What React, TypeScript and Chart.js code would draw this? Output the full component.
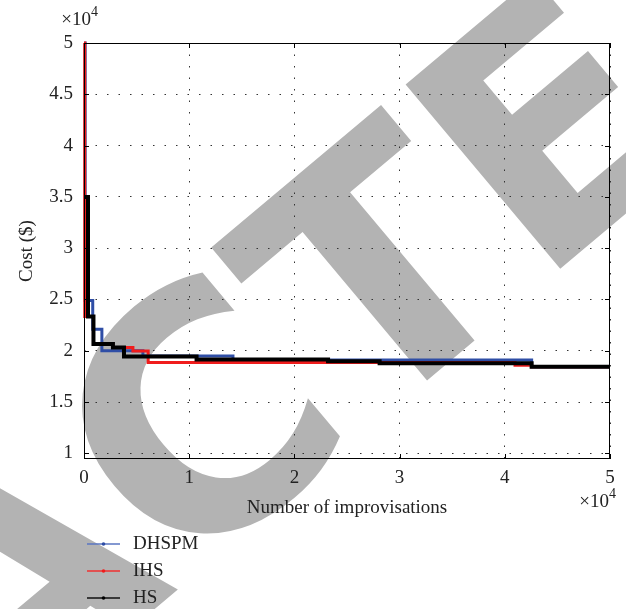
import React, { useEffect, useRef } from "react";
import { Chart, registerables } from "chart.js";

Chart.register(...registerables);

const seriesNames = ["DHSPM", "IHS", "HS"];
const seriesColors = ["#2f4ea6", "#f01c1c", "#000000"];
const legendColors = ["#5a76c2", "#f03030", "#111111"];

// x = number of improvisations, y = cost ($); each point is where the step changes
const dhspmX = [0, 110, 830, 1700, 5600, 14160, 42550, 50000];
const dhspmY = [50000, 24900, 22100, 20000, 19500, 19100, 18450, 18450];
const ihsX = [0, 70, 900, 2750, 4650, 6100, 40970, 42550, 50000];
const ihsY = [50000, 23330, 20670, 20310, 19980, 18850, 18600, 18450, 18450];
const hsX = [0, 380, 900, 2750, 3800, 10700, 23200, 28100, 42550, 50000];
const hsY = [35000, 23330, 20670, 20310, 19450, 19150, 18990, 18780, 18450, 18450];

const xTicks = [0, 10000, 20000, 30000, 40000, 50000];
const yTicks = [10000, 15000, 20000, 25000, 30000, 35000, 40000, 45000, 50000];

const xTitle = "Number of improvisations";
const yTitle = "Cost ($)";
const watermark = "RETRACTED";

const FONT = '"Liberation Serif", "Times New Roman", serif';

const toPts = (xs: number[], ys: number[]) => xs.map((x, i) => ({ x, y: ys[i] }));

const watermarkPlugin = {
  id: "watermark",
  beforeDraw(chart: any) {
    const ctx = chart.ctx;
    ctx.save();
    ctx.fillStyle = "#b3b3b3";
    ctx.font = 'bold 330px "DejaVu Sans"';
    ctx.textAlign = "left";
    ctx.textBaseline = "alphabetic";
    ctx.translate(-751, 1369);
    ctx.rotate((-40 * Math.PI) / 180);
    ctx.fillText(watermark, 0, 0);
    ctx.restore();
  },
};

const framePlugin = {
  id: "frame",
  afterDatasetsDraw(chart: any) {
    const { ctx, chartArea: a, scales } = chart;
    ctx.save();
    ctx.strokeStyle = "#000";
    ctx.lineWidth = 1;
    ctx.setLineDash([]);
    ctx.strokeRect(Math.round(a.left) + 0.5, Math.round(a.top) + 0.5, Math.round(a.right - a.left) - 1, Math.round(a.bottom - a.top) - 1);
    const t = 5;
    ctx.beginPath();
    for (const v of xTicks) {
      const px = Math.round(scales.x.getPixelForValue(v)) + 0.5;
      ctx.moveTo(px, a.bottom);
      ctx.lineTo(px, a.bottom - t);
      ctx.moveTo(px, a.top);
      ctx.lineTo(px, a.top + t);
    }
    for (const v of yTicks) {
      const py = Math.round(scales.y.getPixelForValue(v)) + 0.5;
      ctx.moveTo(a.left, py);
      ctx.lineTo(a.left + t, py);
      ctx.moveTo(a.right, py);
      ctx.lineTo(a.right - t, py);
    }
    ctx.stroke();
    ctx.restore();
  },
};

const textPlugin = {
  id: "texts",
  afterDraw(chart: any) {
    const { ctx, chartArea: a } = chart;
    ctx.save();
    ctx.fillStyle = "#222";
    ctx.textBaseline = "middle";
    ctx.font = `19px ${FONT}`;
    ctx.textAlign = "center";
    ctx.fillText(xTitle, (a.left + a.right) / 2, 508);
    ctx.save();
    ctx.translate(27, (a.top + a.bottom) / 2);
    ctx.rotate(-Math.PI / 2);
    ctx.fillText(yTitle, 0, 0);
    ctx.restore();
    const drawMult = (xRight: number, yMid: number) => {
      ctx.textAlign = "right";
      ctx.font = `14px ${FONT}`;
      const w4 = ctx.measureText("4").width;
      ctx.fillText("4", xRight, yMid - 8);
      ctx.font = `19px ${FONT}`;
      ctx.fillText("×10", xRight - w4, yMid);
    };
    drawMult(98, 20);
    drawMult(616, 502);
    const lx0 = 87, lx1 = 120, ly0 = 544, dy = 27;
    chart.data.datasets.forEach((ds: any, i: number) => {
      const y = ly0 + i * dy;
      ctx.strokeStyle = legendColors[i];
      ctx.lineWidth = 1.5;
      ctx.beginPath();
      ctx.moveTo(lx0, y);
      ctx.lineTo(lx1, y);
      ctx.stroke();
      ctx.fillStyle = seriesColors[i];
      ctx.beginPath();
      ctx.arc((lx0 + lx1) / 2, y, 1.8, 0, Math.PI * 2);
      ctx.fill();
      ctx.fillStyle = "#222";
      ctx.font = `19px ${FONT}`;
      ctx.textAlign = "left";
      ctx.fillText(ds.label, 133, y);
    });
    ctx.restore();
  },
};

export default function App() {
  const ref = useRef<HTMLCanvasElement | null>(null);

  useEffect(() => {
    if (!ref.current) return;
    const widths = [3, 3, 4];
    const datasets = [toPts(dhspmX, dhspmY), toPts(ihsX, ihsY), toPts(hsX, hsY)].map((d, i) => ({
      label: seriesNames[i],
      data: d,
      borderColor: seriesColors[i],
      backgroundColor: seriesColors[i],
      borderWidth: widths[i],
      pointRadius: 0,
      stepped: true,
      tension: 0,
      order: 2 - i,
      clip: 3,
    }));
    const gridCommon = {
      color: "#333",
      lineWidth: 1,
      drawTicks: false,
    };
    const chart = new Chart(ref.current, {
      type: "line",
      data: { datasets },
      plugins: [watermarkPlugin, framePlugin, textPlugin],
      options: {
        animation: false,
        responsive: false,
        maintainAspectRatio: false,
        layout: { padding: { left: 0, top: 43, right: 16, bottom: 0 } },
        plugins: { legend: { display: false }, tooltip: { enabled: false } },
        scales: {
          x: {
            type: "linear",
            min: 0,
            max: 50000,
            grid: gridCommon,
            border: { display: false, dash: [1.5, 10] },
            afterBuildTicks: (s: any) => {
              s.ticks = xTicks.map((v) => ({ value: v }));
            },
            afterFit: (s: any) => {
              s.height = 150;
            },
            ticks: {
              padding: 8,
              color: "#222",
              font: { family: FONT, size: 19 },
              maxRotation: 0,
              callback: (v: any) => String(Number(v) / 10000),
            },
          },
          y: {
            type: "linear",
            min: 9450,
            max: 50000,
            grid: gridCommon,
            border: { display: false, dash: [1.5, 10] },
            afterBuildTicks: (s: any) => {
              s.ticks = yTicks.map((v) => ({ value: v }));
            },
            afterFit: (s: any) => {
              s.width = 84;
            },
            ticks: {
              padding: 11,
              color: "#222",
              font: { family: FONT, size: 19 },
              callback: (v: any) => String(Number(v) / 10000),
            },
          },
        },
      },
    } as any);
    return () => chart.destroy();
  }, []);

  return (
    <div style={{ position: "fixed", left: 0, top: 0, width: 626, height: 609, background: "#fff" }}>
      <canvas ref={ref} width={626} height={609} style={{ width: 626, height: 609, display: "block" }} />
    </div>
  );
}
